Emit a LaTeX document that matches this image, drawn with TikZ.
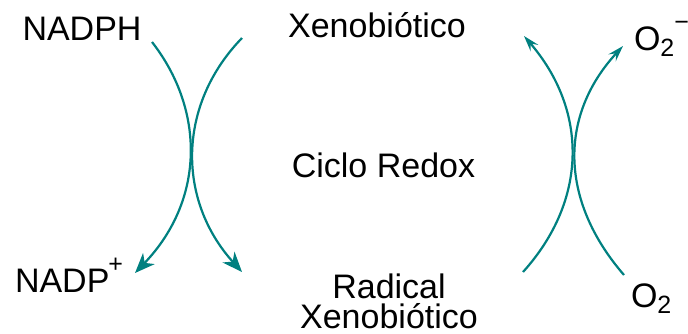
\documentclass[tikz,border=0pt]{standalone}
\usepackage{fontspec}
\setmainfont{Liberation Sans}
\usetikzlibrary{arrows.meta}
\definecolor{tealc}{RGB}{0,128,128}
\newcommand{\subtwo}{\raisebox{-6pt}{\fontsize{25}{25}\selectfont 2}}
\newcommand{\supch}[1]{\raisebox{20pt}{\fontsize{25}{25}\selectfont #1}}
\begin{document}
\begin{tikzpicture}[x=1pt,y=-1pt,
  lbl/.style={inner sep=0pt,outer sep=0pt,font=\fontsize{34}{30}\selectfont},
  arcbig/.style={draw=tealc,line width=2.2pt,-{Stealth[length=20pt,width=16pt,inset=6pt]}},
  arcsmall/.style={draw=tealc,line width=2.2pt,-{Stealth[length=16pt,width=10pt,inset=6pt]}}]
\useasboundingbox (0,0) rectangle (688,333);
% labels
\node[lbl,anchor=base west] (nadph) at (22.5,40) {NADPH};
\node[lbl,anchor=base] (xeno) at (377,37) {Xenobiótico};
\node[lbl,anchor=base] (ciclo) at (383.5,177) {Ciclo Redox};
\node[lbl,anchor=base,align=center,text depth=0pt] (radical) at (389,328) {Radical\\[-0.5pt]Xenobiótico};
\node[lbl,anchor=base west] (nadp) at (15,292) {NADP\kern-1pt\supch{+}};
\node[lbl,anchor=base west] (o2) at (631,307) {O\subtwo};
\node[lbl,anchor=base west] (o2m) at (634,50) {O\subtwo\supch{−}};
% arc end points
\coordinate (a1s) at (152,42);
\coordinate (a1e) at (135,273);
\coordinate (a2s) at (242,38);
\coordinate (a2e) at (242,272);
\coordinate (a3s) at (523,272);
\coordinate (a3e) at (524,36);
\coordinate (a4s) at (624,275);
\coordinate (a4e) at (623,46);
% arcs
\draw[arcbig] (a1s) .. controls (205,110) and (205,200) .. (a1e);
\draw[arcbig] (a2s) .. controls (177,105) and (177,200) .. (a2e);
\draw[arcsmall] (a3s) .. controls (588,200) and (588,110) .. (a3e);
\draw[arcsmall] (a4s) .. controls (559,200) and (559,115) .. (a4e);
\end{tikzpicture}
\end{document}
